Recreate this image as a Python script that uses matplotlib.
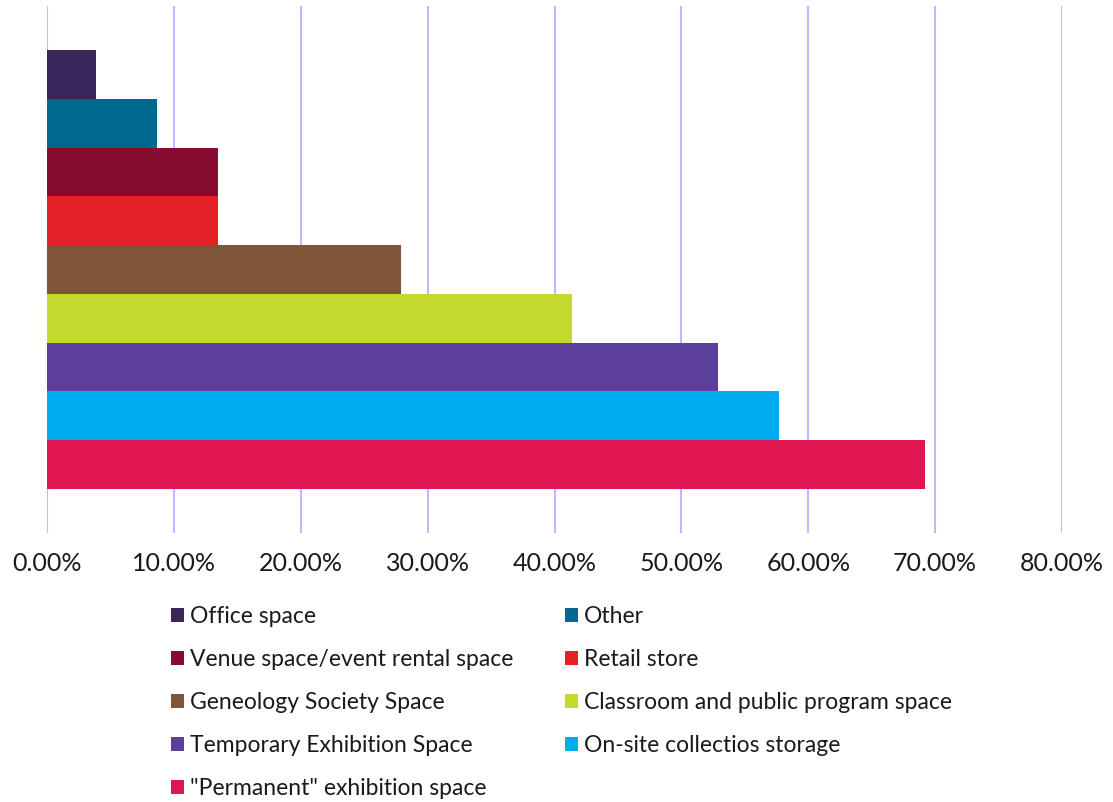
import matplotlib as mpl
mpl.use('Agg')
import matplotlib.pyplot as plt
from matplotlib.patches import Patch
from matplotlib.ticker import FuncFormatter

# share of respondents per space type (n = 104)
spaces = [
    'Office space',
    'Other',
    'Venue space/event rental space',
    'Retail store',
    'Geneology Society Space',
    'Classroom and public program space',
    'Temporary Exhibition Space',
    'On-site collectios storage',
    '"Permanent" exhibition space',
]
shares = [3.85, 8.65, 13.46, 13.46, 27.88, 41.35, 52.88, 57.69, 69.23]
colors = ['#3a2759', '#006a8e', '#880c30', '#e42127', '#7f553a',
          '#c4d92e', '#5c3f98', '#00aeef', '#e01651']
x_ticks = [0, 10, 20, 30, 40, 50, 60, 70, 80]

plt.rcParams['font.family'] = ['Lato', 'DejaVu Sans']
plt.rcParams['text.color'] = '#1a1a1a'

fig = plt.figure(figsize=(11.13, 8.02), dpi=100)
ax = fig.add_axes([47 / 1113, 269 / 802, 1015 / 1113, 527 / 802])

for i, (v, c) in enumerate(zip(shares, colors)):
    ax.barh(i, v, height=1.0, color=c, zorder=3, linewidth=0)

ax.set_xlim(0, 80)
ax.set_ylim(len(shares) - 0.5 + 0.9, -0.5 - 0.9)
ax.set_xticks(x_ticks)
ax.xaxis.set_major_formatter(FuncFormatter(lambda v, p: '{:.2f}%'.format(v)))
ax.set_yticks([])
ax.tick_params(axis='x', length=0, pad=14, labelsize=18, labelcolor='#1a1a1a')
ax.grid(axis='x', color='#bbbbff', linewidth=1.5, zorder=0)
for s in ax.spines.values():
    s.set_visible(False)

## legend, two columns laid out row-wise
handles = [Patch(facecolor=c, edgecolor='none') for c in colors]
leg_kw = dict(frameon=False, fontsize=16.5, handlelength=0.58, handleheight=0.58,
              handletextpad=0.25, labelspacing=0.96, borderaxespad=0, borderpad=0,
              loc='upper left')
left = [0, 2, 4, 6, 8]
right = [1, 3, 5, 7]
fig.legend([handles[i] for i in left], [spaces[i] for i in left],
           bbox_to_anchor=(171 / 1113, 1 - 606 / 802), **leg_kw)
fig.legend([handles[i] for i in right], [spaces[i] for i in right],
           bbox_to_anchor=(565 / 1113, 1 - 606 / 802), **leg_kw)

fig.savefig('out.png', dpi=100)
